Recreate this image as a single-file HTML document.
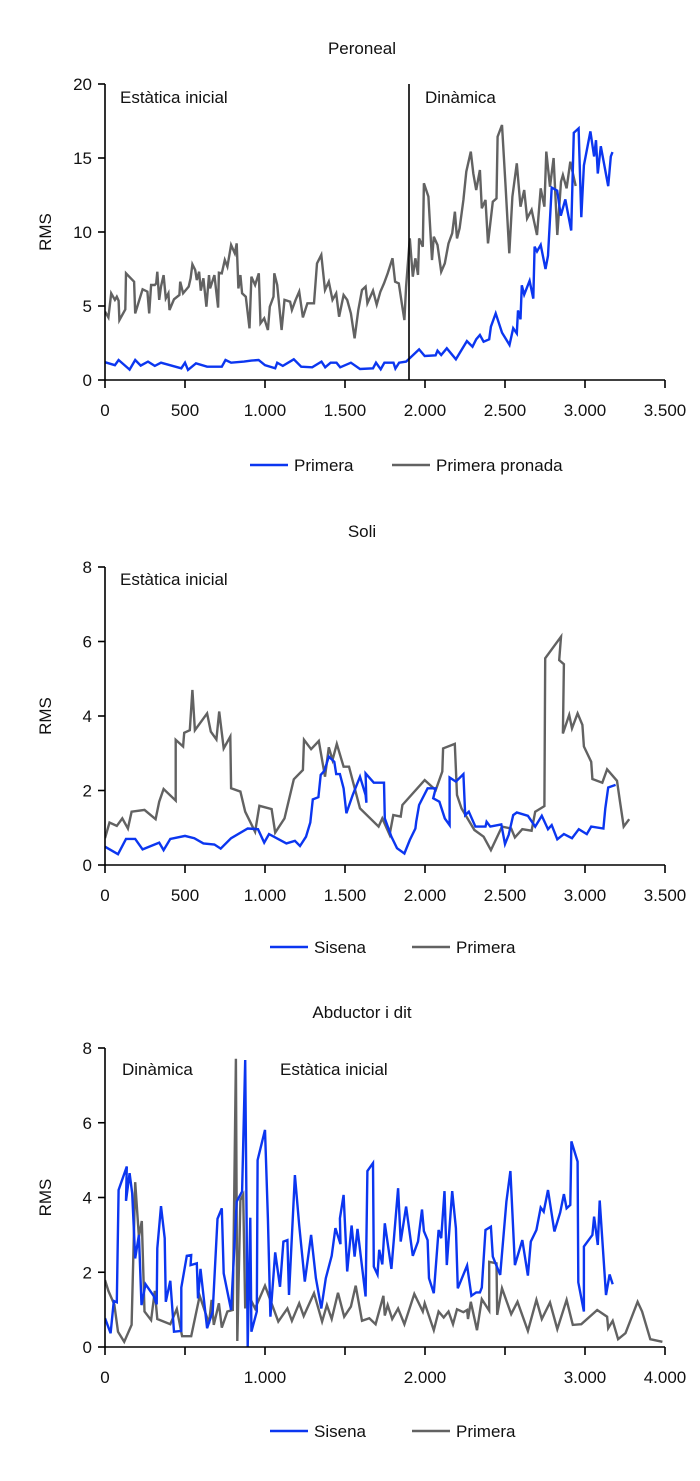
<!DOCTYPE html>
<html><head><meta charset="utf-8"><style>
body{margin:0;background:#fff;}
svg text{font-family:"Liberation Sans",sans-serif;fill:#111;}
</style></head><body>
<svg id="c" width="700" height="1476" xmlns="http://www.w3.org/2000/svg"></svg>
<script>
// ---- Chart 1: Peroneal ----
const p1BlueX=[0,62,85,154,189,223,269,311,350,477,500,519,569,638,730,753,788,869,915,960,1000,1064,1076,1111,1180,1226,1295,1353,1376,1410,1447,1470,1537,1594,1675,1694,1723,1746,1803,1815,1838,1882,1963,1998,2066,2078,2101,2136,2193,2262,2297,2320,2343,2366,2401,2412,2442,2481,2528,2551,2574,2581,2597,2605,2620,2654,2677,2685,2700,2723,2753,2769,2792,2826,2849,2877,2914,2930,2960,2977,2993,3034,3057,3069,3080,3099,3145,3161,3172];
const p1BlueY=[1.2,1.0,1.35,0.7,1.35,0.97,1.24,0.95,1.17,0.79,1.17,0.68,1.13,0.9,0.9,1.35,1.17,1.24,1.31,1.35,1.0,0.79,1.17,0.95,1.4,0.9,0.86,1.24,0.86,1.17,1.17,0.86,1.17,0.74,0.79,1.17,0.72,1.17,1.17,0.77,1.17,1.24,2.07,1.62,1.67,1.98,1.69,2.14,1.4,2.63,2.25,2.75,3.04,2.59,2.75,3.6,4.5,3.2,2.37,3.5,3.15,4.7,4.1,6.4,5.77,6.7,5.5,9.01,8.68,9.13,7.5,8.4,13.0,12.8,11.1,12.2,10.1,16.7,17.0,11.0,14.5,16.8,15.1,16.2,13.95,15.8,13.1,15.1,15.4];
const p1GrayX=[0,21,39,62,74,85,90,127,131,182,189,235,265,276,288,311,320,327,339,350,366,380,396,403,431,465,470,488,523,535,546,564,574,588,599,615,634,650,657,684,707,712,730,749,765,788,811,823,834,846,857,880,903,915,938,961,972,995,1018,1030,1053,1058,1076,1104,1122,1157,1168,1191,1214,1237,1265,1306,1325,1352,1375,1399,1422,1445,1463,1491,1514,1537,1560,1583,1606,1629,1640,1675,1698,1721,1744,1767,1797,1813,1836,1855,1871,1882,1905,1924,1940,1956,1963,1986,1993,2021,2044,2055,2078,2101,2124,2147,2170,2187,2200,2216,2240,2258,2286,2302,2320,2343,2355,2378,2394,2424,2447,2454,2481,2504,2527,2546,2574,2597,2620,2638,2666,2700,2723,2746,2758,2781,2804,2827,2850,2862,2885,2908,2942];
const p1GrayY=[4.62,4.23,5.86,5.41,5.63,5.36,4.05,4.77,7.21,6.64,4.5,6.13,5.97,4.5,6.42,6.42,6.53,7.32,5.41,6.31,7.09,5.52,5.86,4.73,5.45,5.74,6.64,5.86,6.31,6.87,7.82,7.43,6.76,7.32,6.04,6.87,4.95,7.09,6.19,7.09,4.89,7.25,7.21,8.11,7.66,9.12,8.56,9.23,6.19,7.09,5.86,5.63,3.49,6.98,6.42,7.21,3.83,4.17,3.38,4.95,5.63,7.21,6.42,3.38,5.41,5.29,4.73,5.41,5.97,4.23,5.18,5.18,7.88,8.45,6.08,6.64,5.41,5.86,4.28,5.74,5.41,4.5,2.82,4.73,6.08,6.31,5.18,6.04,5.09,5.97,6.53,7.21,8.22,6.64,6.53,5.18,4.05,6.31,9.57,6.98,8.22,7.1,9.57,9.01,13.29,12.39,8.11,9.68,9.12,7.32,7.88,9.23,9.91,11.37,9.57,10.25,12.16,14.08,15.43,13.96,12.84,14.19,11.6,12.16,9.23,12.05,12.27,16.44,17.23,13.06,8.56,12.39,14.64,11.71,12.84,10.92,11.49,9.8,12.95,11.71,15.43,13.06,15.0,9.8,13.4,13.85,12.95,14.75,13.11];
// ---- Chart 2: Soli ----
const p2GrayX=[0,28,74,108,143,166,247,316,339,366,442,442,488,495,530,546,562,638,661,696,714,742,783,788,846,876,938,965,1041,1064,1122,1180,1237,1244,1288,1336,1375,1399,1422,1449,1491,1525,1594,1710,1733,1779,1802,1848,1859,1998,2067,2108,2113,2186,2200,2228,2309,2366,2412,2481,2539,2562,2608,2666,2689,2746,2751,2850,2839,2868,2862,2901,2919,2954,2984,2993,3039,3046,3108,3138,3200,3219,3242,3276];
const p2GrayY=[0.72,1.14,1.05,1.25,0.98,1.43,1.48,1.23,1.7,2.04,1.73,3.36,3.18,3.55,3.62,4.7,3.62,4.07,3.58,3.37,4.12,3.13,3.45,2.06,1.97,1.43,0.89,1.59,1.5,0.87,1.25,2.3,2.55,3.36,3.11,3.33,2.37,3.16,2.82,3.25,2.64,2.64,1.52,1.03,1.25,0.81,1.34,1.3,1.61,2.28,2.01,2.51,3.13,3.25,1.88,1.52,0.94,0.76,0.4,1.03,0.98,0.74,0.96,0.92,1.43,1.58,5.55,6.13,5.5,5.39,3.53,4.03,3.67,4.07,3.76,3.18,2.77,2.31,2.21,2.57,2.26,1.7,1.03,1.23];
const p2BlueX=[0,81,131,189,235,339,366,408,500,558,615,684,723,788,892,956,995,1025,1134,1187,1219,1256,1283,1299,1334,1348,1371,1399,1433,1445,1468,1491,1509,1548,1594,1629,1634,1629,1680,1744,1749,1790,1825,1871,1905,1940,1945,1963,2016,2067,2051,2090,2124,2154,2154,2193,2240,2251,2274,2315,2378,2385,2408,2477,2500,2523,2551,2574,2643,2689,2730,2769,2792,2827,2868,2919,2961,3011,3039,3115,3127,3145,3191];
const p2BlueY=[0.49,0.29,0.7,0.7,0.42,0.6,0.4,0.7,0.78,0.72,0.58,0.55,0.44,0.72,0.98,0.96,0.6,0.83,0.58,0.65,0.51,0.76,1.14,1.76,1.82,2.42,2.53,2.91,2.77,2.44,2.44,2.06,1.39,1.88,2.37,1.88,1.67,2.46,2.21,2.21,1.25,0.76,0.45,0.31,0.67,0.98,1.16,1.61,2.06,2.06,1.79,1.7,1.25,1.07,2.35,2.24,2.44,1.34,1.43,1.03,1.03,1.16,1.03,1.09,0.56,0.81,1.34,1.41,1.32,1.03,1.32,0.96,1.07,0.69,0.83,0.72,0.96,0.83,1.03,0.98,1.52,2.08,2.15];
// ---- Chart 3: Abductor i dit ----
const p3BlueX=[0,35,55,74,85,136,131,154,170,189,212,228,253,304,323,327,350,373,380,408,431,477,477,511,539,535,574,581,597,638,673,703,730,742,788,823,857,876,892,908,915,949,954,1000,1018,1034,1064,1094,1115,1140,1150,1187,1214,1249,1288,1318,1352,1380,1417,1440,1472,1468,1491,1514,1541,1560,1578,1629,1640,1675,1680,1703,1714,1733,1749,1790,1832,1848,1882,1924,1956,1981,1993,2016,2025,2055,2085,2101,2122,2136,2170,2193,2205,2263,2290,2320,2343,2355,2378,2412,2424,2470,2509,2534,2562,2608,2643,2661,2696,2723,2742,2769,2809,2845,2868,2885,2908,2915,2954,2958,2993,2993,3046,3057,3080,3092,3131,3154,3173];
const p3BlueY=[0.77,0.37,1.23,1.2,4.2,4.83,3.91,4.65,4.11,2.37,3.0,1.12,1.68,1.37,1.14,2.64,3.77,2.91,1.21,1.77,0.41,0.43,1.59,2.44,2.46,2.19,2.24,1.3,2.09,0.5,0.95,3.43,3.71,1.97,0.99,3.89,4.16,7.68,0.01,3.46,0.41,0.95,5.0,5.81,3.44,0.81,2.53,1.61,2.82,2.86,1.39,4.6,3.26,1.75,3.0,1.84,1.03,1.84,2.44,3.18,2.75,3.44,4.07,2.02,3.25,2.42,3.16,1.35,4.71,4.92,2.15,1.94,2.6,2.21,3.31,2.09,4.25,2.82,3.76,2.44,2.82,3.68,3.1,2.86,1.84,1.44,3.13,2.91,4.17,2.19,4.17,3.18,1.57,2.18,1.37,1.46,1.46,1.59,3.13,3.22,2.42,1.93,3.89,4.71,2.19,2.86,1.91,2.82,3.13,3.73,3.62,4.2,3.09,3.6,4.09,3.71,3.8,5.5,4.96,1.73,0.95,2.69,3.0,3.49,2.73,3.92,1.39,1.94,1.68];
const p3GrayX=[0,21,58,81,120,166,189,212,230,247,288,311,327,408,449,482,539,592,650,666,680,712,730,765,799,818,827,846,864,876,880,938,1000,1083,1140,1168,1214,1242,1306,1357,1387,1417,1456,1495,1537,1567,1606,1652,1691,1740,1749,1767,1795,1832,1871,1933,1986,1998,2055,2085,2117,2147,2175,2200,2240,2263,2269,2286,2325,2355,2401,2401,2447,2451,2481,2539,2578,2643,2696,2730,2781,2827,2885,2924,2977,3076,3138,3145,3173,3207,3253,3329,3357,3408,3484];
const p3GrayY=[1.79,1.5,1.14,0.41,0.14,0.59,4.41,2.95,3.37,0.95,0.72,1.5,0.75,0.61,1.02,0.29,0.29,1.37,0.63,1.26,0.59,1.17,0.52,0.95,0.99,7.71,0.16,3.93,4.07,1.03,1.53,1.03,1.64,0.68,1.03,0.7,1.17,0.83,1.44,0.68,1.12,0.75,1.45,0.81,1.08,1.64,0.7,0.77,0.61,1.37,0.84,1.12,0.75,1.03,0.61,1.42,0.95,1.17,0.45,0.95,0.79,0.95,0.61,1.01,0.93,0.99,0.75,1.21,0.45,1.28,0.97,2.28,2.24,0.86,1.57,0.88,1.21,0.43,1.26,0.75,1.19,0.48,1.26,0.59,0.61,0.99,0.81,0.5,0.7,0.21,0.37,1.21,0.95,0.21,0.14];
const xTicks=[0,500,1000,1500,2000,2500,3000,3500];
const xLabels13=["0","500","1.000","1.500","2.000","2.500","3.000","3.500"];
const xLabels3=["0","","1.000","","2.000","","3.000","4.000"];
const yTicks1=[0,5,10,15,20];
const yTicks2=[0,2,4,6,8];

const NS="http://www.w3.org/2000/svg";
const svg=document.getElementById('c');
function mk(t,a,p){const e=document.createElementNS(NS,t);for(const k in a)e.setAttribute(k,a[k]);(p||svg).appendChild(e);return e;}
const BLUE="#0b36f0",GRAY="#626262";
function chart(o){
  const g=mk('g',{});
  
  
  const L=105,R=665,T=o.top,B=o.bottom;
  const xs=v=>L+(v-0)/3500*(R-L);
  const ys=v=>B-(v/o.ymax)*(B-T);
  const t=mk('text',{x:362,y:o.top-30,'font-size':17,'text-anchor':'middle'},g);t.textContent=o.title;
  
  const yl=mk('text',{x:0,y:0,'font-size':17,'text-anchor':'middle',transform:`translate(51,${(T+B)/2}) rotate(-90)`},g);yl.textContent="RMS";
  
  const clipId='clip'+o.top;
  const cp=mk('clipPath',{id:clipId},g);mk('rect',{x:L,y:T-2,width:R-L+5,height:B-T+2},cp);
  o.series.forEach(s=>{
    const d=s.x.map((v,i)=>(i?'L':'M')+xs(v).toFixed(1)+','+ys(s.y[i]).toFixed(1)).join('');
    const p=mk('path',{d:d,fill:'none',stroke:s.color,'stroke-width':2.4,'stroke-linejoin':'miter','clip-path':`url(#${clipId})`},g);
    
  });
  if(o.vline!==undefined){const vl=mk('line',{x1:xs(o.vline),x2:xs(o.vline),y1:T,y2:B,stroke:'#000','stroke-width':1.6},g);
    }
  const ax=mk('path',{d:`M${L},${T}V${B}H${R}`,fill:'none',stroke:'#000','stroke-width':1.6},g);
  
  o.yt.forEach(v=>{mk('line',{x1:L-7,x2:L,y1:ys(v),y2:ys(v),stroke:'#000','stroke-width':1.6},g);
    const tt=mk('text',{x:L-13,y:ys(v)+6,'font-size':17,'text-anchor':'end'},g);tt.textContent=v;
    });
  xTicks.forEach((v,i)=>{mk('line',{x1:xs(v),x2:xs(v),y1:B,y2:B+8,stroke:'#000','stroke-width':1.6},g);
    const tt=mk('text',{x:xs(v),y:B+36,'font-size':17,'text-anchor':'middle'},g);tt.textContent=o.xl[i];
    });
  o.notes.forEach(n=>{const tt=mk('text',{x:n[0],y:n[1],'font-size':17},g);tt.textContent=n[2];
    });
  const ly=o.legY;
  o.legend.forEach(l=>{const lg=mk('g',{},g);
    
    mk('line',{x1:l[0],x2:l[0]+38,y1:ly,y2:ly,stroke:l[2],'stroke-width':2.6},lg);
    const tt=mk('text',{x:l[0]+44,y:ly+6,'font-size':17},lg);tt.textContent=l[1];});
}
chart({name:'peroneal-chart',title:'Peroneal',top:84,bottom:380,ymax:20,yt:yTicks1,xl:xLabels13,vline:1900,
  notes:[[120,103,'Estàtica inicial'],[425,103,'Dinàmica']],legY:465,
  legend:[[250,'Primera',BLUE],[392,'Primera pronada',GRAY]],
  series:[{x:p1GrayX,y:p1GrayY,color:GRAY,dn:'series-primera-pronada'},{x:p1BlueX,y:p1BlueY,color:BLUE,dn:'series-primera'}]});
chart({name:'soli-chart',title:'Soli',top:567,bottom:865,ymax:8,yt:yTicks2,xl:xLabels13,
  notes:[[120,585,'Estàtica inicial']],legY:947,
  legend:[[270,'Sisena',BLUE],[412,'Primera',GRAY]],
  series:[{x:p2GrayX,y:p2GrayY,color:GRAY,dn:'series-primera'},{x:p2BlueX,y:p2BlueY,color:BLUE,dn:'series-sisena'}]});
chart({name:'abductor-chart',title:'Abductor i dit',top:1048,bottom:1347,ymax:8,yt:yTicks2,xl:xLabels3,
  notes:[[122,1075,'Dinàmica'],[280,1075,'Estàtica inicial']],legY:1431,
  legend:[[270,'Sisena',BLUE],[412,'Primera',GRAY]],
  series:[{x:p3GrayX,y:p3GrayY,color:GRAY,dn:'series-primera'},{x:p3BlueX,y:p3BlueY,color:BLUE,dn:'series-sisena'}]});
</script>
</body></html>
